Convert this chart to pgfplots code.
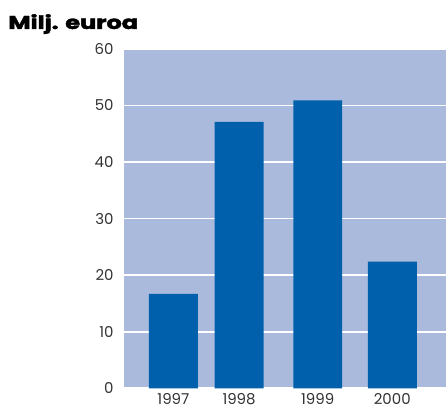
\documentclass[border=0pt]{standalone}
\usepackage{pgfplots}
\pgfplotsset{compat=1.18}
\usepackage{fontspec}
\setmainfont{Poppins}
\definecolor{bgblue}{HTML}{AABADD}
\definecolor{barblue}{HTML}{0060AB}
\definecolor{txt}{HTML}{333333}
\begin{document}
\begin{tikzpicture}
  \path (-124.3pt,-22pt) rectangle (322.7pt,389pt);
  \begin{axis}[
      at={(0,0)}, anchor=south west,
      scale only axis,
      width=322.7pt, height=340pt,
      xmin=124.3, xmax=447,
      ymin=0, ymax=60,
      ytick={0,10,...,60},
      xtick={173.7,239.5,318.3,393},
      xticklabels={1997,1998,1999,2000},
      major tick length=0pt,
      axis line style={draw=none},
      axis background/.style={fill=bgblue},
      ymajorgrids,
      major grid style={draw=white, line width=1.6pt},
      ticklabel style={font=\fontsize{15}{17}\selectfont, text=txt},
      /pgf/number format/assume math mode=true,
      yticklabel style={xshift=-7pt},
      xticklabel style={yshift=-2pt},
      ybar, bar width=49,
    ]
    \addplot[draw=none, fill=barblue] coordinates {
      (173.7,16.7) (239.5,47.1) (318.3,50.9) (393,22.4)
    };
  \end{axis}
  \node[anchor=north west, inner sep=0pt, font=\fontsize{18.5}{20}\selectfont\bfseries\addfontfeature{FakeBold=2}]
    at (-116pt,375pt) {\scalebox{1.3}[1]{Milj. euroa}};
\end{tikzpicture}
\end{document}
